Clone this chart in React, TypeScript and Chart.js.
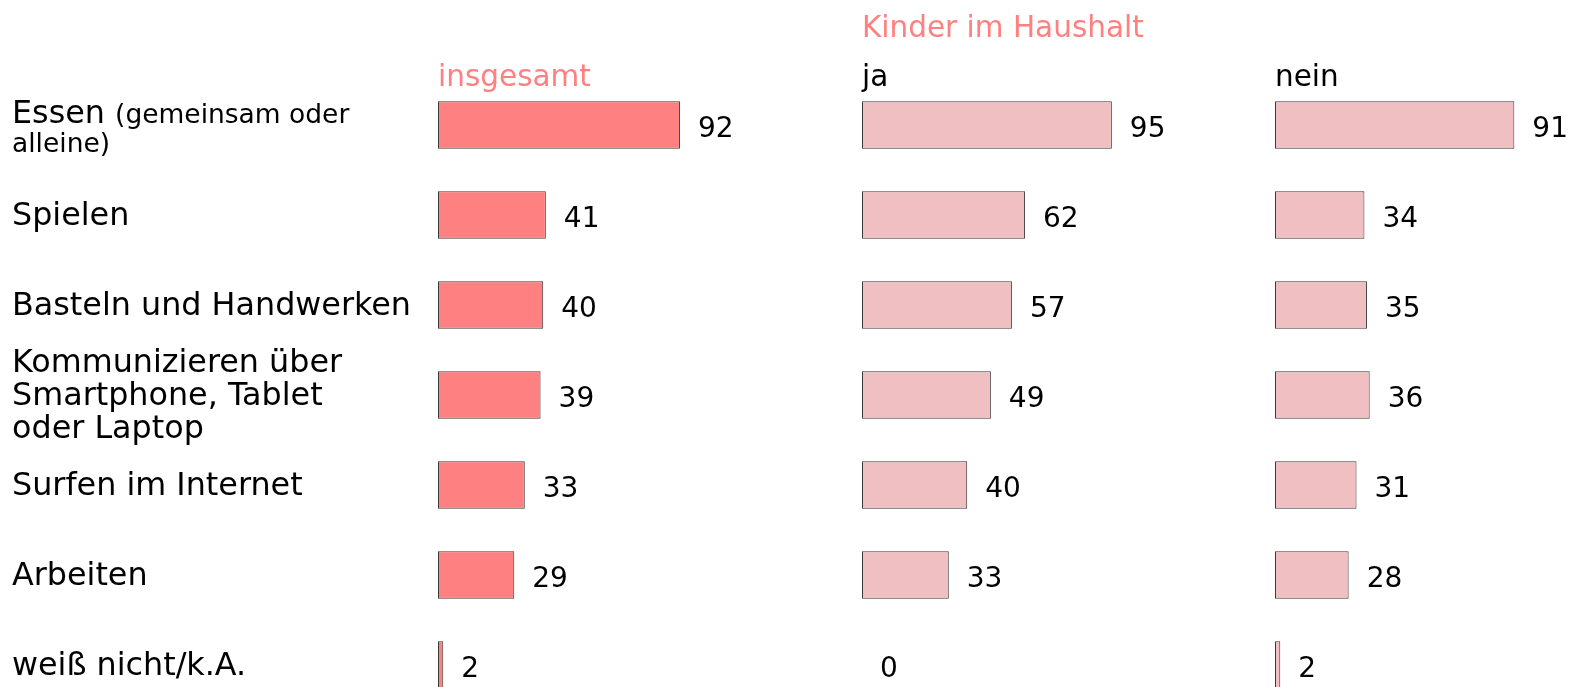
import React, { useEffect, useRef } from 'react';
import { Chart, registerables } from 'chart.js';

Chart.register(...registerables);

// ---- data ----
const categories: string[][] = [
  ['Essen (gemeinsam oder', 'alleine)'],
  ['Spielen'],
  ['Basteln und Handwerken'],
  ['Kommunizieren über', 'Smartphone, Tablet', 'oder Laptop'],
  ['Surfen im Internet'],
  ['Arbeiten'],
  ['weiß nicht/k.A.'],
];
const insgesamt = [92, 41, 40, 39, 33, 29, 2];
const kinderJa = [95, 62, 57, 49, 40, 33, 0];
const kinderNein = [91, 34, 35, 36, 31, 28, 2];
const panelTitles = ['insgesamt', 'ja', 'nein'];
const groupTitle = 'Kinder im Haushalt';

const FONT = '"DejaVu Sans", Verdana, sans-serif';
const PINK = '#ff8080';
const LIGHT = '#f0bfc1';

type Panel = {
  values: number[];
  title: string;
  titleColor: string;
  group?: string;
  color: string;
  left: number;
  width: number;
  padL: number;
  labels: boolean;
};

const CANVAS_H = 730;
const AREA_W = 263;

function makePlugin(p: Panel) {
  return {
    id: 'custom_' + p.title,
    afterDatasetsDraw(chart: any) {
      const ctx = chart.ctx as CanvasRenderingContext2D;
      const meta = chart.getDatasetMeta(0);
      const data = chart.data.datasets[0].data as number[];
      const area = chart.chartArea;
      ctx.save();
      ctx.textAlign = 'left';
      ctx.textBaseline = 'alphabetic';
      // value labels
      ctx.font = `28px ${FONT}`;
      ctx.fillStyle = '#000';
      meta.data.forEach((bar: any, i: number) => {
        ctx.fillText(String(data[i]), bar.x + 18, bar.y + 12);
      });
      // headers
      ctx.font = `29.5px ${FONT}`;
      ctx.fillStyle = p.titleColor;
      ctx.fillText(p.title, area.left, 86);
      if (p.group) {
        ctx.fillStyle = PINK;
        ctx.fillText(p.group, area.left, 37);
      }
      // category labels
      if (p.labels) {
        const yScale = chart.scales.y;
        ctx.fillStyle = '#000';
        (chart.data.labels as string[][]).forEach((lines, i) => {
          const cy = yScale.getPixelForValue(i);
          const n = lines.length;
          const lh = n > 2 ? 33 : 29;
          let small = false;
          lines.forEach((line, j) => {
            const base = cy + 10 + (j - (n - 1) / 2) * lh + (n === 2 ? 2.5 : 0);
            let x = 12;
            let text = line;
            if (!small) {
              const k = text.indexOf('(');
              if (k >= 0) {
                const big = text.slice(0, k);
                ctx.font = `31.8px ${FONT}`;
                ctx.fillText(big, x, base);
                x += ctx.measureText(big).width;
                text = text.slice(k);
                small = true;
              }
            }
            ctx.font = `${small ? 26.5 : 31.8}px ${FONT}`;
            ctx.fillText(text, x, base);
          });
        });
      }
      ctx.restore();
    },
  };
}

const panels: Panel[] = [
  { values: insgesamt, title: panelTitles[0], titleColor: PINK, color: PINK, left: 0, width: 840, padL: 438, labels: true },
  { values: kinderJa, title: panelTitles[1], titleColor: '#000', group: groupTitle, color: LIGHT, left: 840, width: 400, padL: 22, labels: false },
  { values: kinderNein, title: panelTitles[2], titleColor: '#000', color: LIGHT, left: 1240, width: 331, padL: 35, labels: false },
];

export default function App() {
  const refs = [useRef<HTMLCanvasElement>(null), useRef<HTMLCanvasElement>(null), useRef<HTMLCanvasElement>(null)];

  useEffect(() => {
    const charts = panels.map((p, idx) => {
      const canvas = refs[idx].current!;
      return new Chart(canvas, {
        type: 'bar',
        data: {
          labels: categories,
          datasets: [
            {
              data: p.values,
              backgroundColor: p.color,
              borderColor: '#3a3a3a',
              borderWidth: 1,
              borderSkipped: false,
              categoryPercentage: 1,
              barPercentage: 0.53,
            },
          ],
        },
        options: {
          indexAxis: 'y',
          responsive: false,
          animation: false,
          devicePixelRatio: 1,
          layout: {
            padding: { left: p.padL, right: p.width - p.padL - AREA_W, top: 80, bottom: CANVAS_H - 80 - 630 },
          },
          scales: {
            x: { display: false, min: 0, max: 100 },
            y: { display: false, offset: true },
          },
          plugins: {
            legend: { display: false },
            tooltip: { enabled: false },
          },
        },
        plugins: [makePlugin(p)],
      } as any);
    });
    return () => charts.forEach((c) => c.destroy());
  }, []);

  return (
    <div style={{ position: 'fixed', left: 0, top: 0, width: 1571, height: 687, overflow: 'hidden', background: '#fff' }}>
      {panels.map((p, idx) => (
        <canvas
          key={idx}
          ref={refs[idx]}
          width={p.width}
          height={CANVAS_H}
          style={{ position: 'absolute', left: p.left, top: 0, width: p.width, height: CANVAS_H }}
        />
      ))}
    </div>
  );
}
